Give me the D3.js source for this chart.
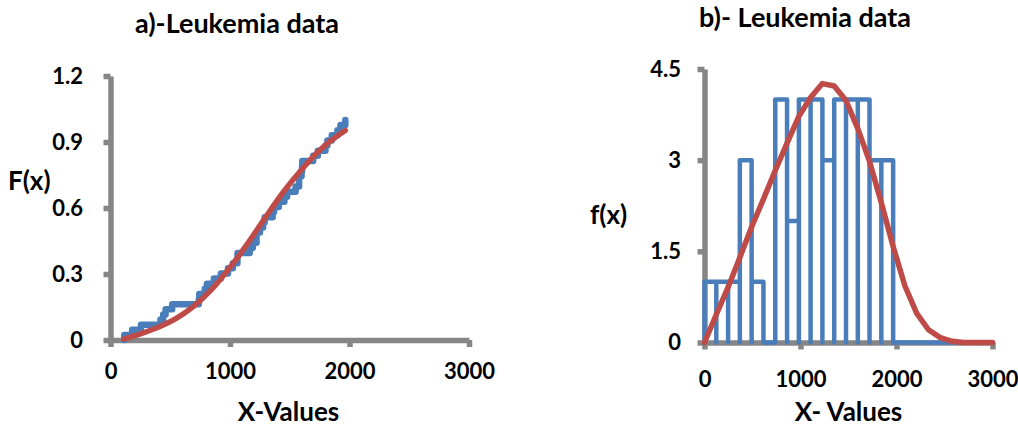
<!DOCTYPE html>
<html>
<head>
<meta charset="utf-8">
<script src="https://cdn.jsdelivr.net/npm/d3@7"></script>
<style>
  body { margin: 0; background: #fff; }
  text { font-family: Lato, "Open Sans", sans-serif; font-weight: bold; fill: #000; }
</style>
</head>
<body>
<div id="chart"></div>
<script>
/* Leukemia data: a) empirical vs fitted CDF, b) histogram vs fitted density */

const width = 1018, height = 426;

// survival times (days), sorted -> empirical CDF of panel a
const survival = [115, 181, 255, 418, 441, 461, 516, 739, 743, 789, 807, 865, 924, 983, 1024, 1062, 1063,
    1165, 1191, 1222, 1222, 1251, 1277, 1290, 1357, 1369, 1408, 1455, 1478, 1549, 1578, 1578, 1599, 1603,
    1605, 1696, 1735, 1799, 1815, 1852, 1899, 1925, 1965];

// fitted CDF (red line, panel a)
const cdfX = [115, 250, 400, 550, 700, 850, 1000, 1150, 1300, 1450, 1600, 1750, 1900, 1965];
const cdfF = [0.005, 0.028, 0.058, 0.098, 0.155, 0.232, 0.33, 0.44, 0.56, 0.675, 0.775, 0.862, 0.928, 0.952];

// histogram of panel b: bin edges and counts
const binEdges = [0, 123, 246, 368, 491, 614, 737, 860, 983, 1105, 1228, 1351, 1474, 1597, 1719, 1842, 1965];
const binCounts = [1, 1, 1, 3, 1, 0, 4, 2, 4, 4, 3, 4, 4, 4, 3, 3];

// fitted density (red line, panel b)
const pdfX = [0, 123, 246, 368, 491, 614, 737, 860, 983, 1105, 1228, 1351, 1474, 1597, 1719, 1842, 1965,
    2088, 2211, 2333, 2456, 2579, 2702, 2825, 3000];
const pdfY = [0, 0.46, 0.91, 1.4, 1.9, 2.36, 2.83, 3.28, 3.72, 4.03, 4.26, 4.22, 3.98, 3.52, 2.98, 2.3, 1.58,
    0.93, 0.48, 0.21, 0.08, 0.02, 0, 0, 0];

const xTicks = [0, 1000, 2000, 3000];
const yTicksA = [0, 0.3, 0.6, 0.9, 1.2];
const yTicksB = [0, 1.5, 3, 4.5];

const grey = "#868686", blue = "#4A7EBB", red = "#BE4B48";

const svg = d3.select("#chart")
    .append("svg")
    .attr("width", width)
    .attr("height", height)
    .attr("viewBox", [0, 0, width, height]);

// thick grey excel-like axes
function styleAxis(g) {
    g.select(".domain").attr("stroke", grey).attr("stroke-width", 5.5);
    g.selectAll(".tick line").attr("stroke", grey).attr("stroke-width", 5.5);
    g.selectAll(".tick text").style("font-size", "22px");
}

// ---------- panel a ----------
let xA = d3.scaleLinear().domain([0, 3000]).range([110.5, 469]);
let yA = d3.scaleLinear().domain([0, 1.2]).range([340, 76]);

svg.append("g")
    .attr("transform", `translate(0,${yA(0)})`)
    .call(d3.axisBottom(xA).tickValues(xTicks).tickFormat(String).tickSize(7).tickSizeOuter(0).tickPadding(16))
    .call(styleAxis);

svg.append("g")
    .attr("transform", `translate(${xA(0)},0)`)
    .call(d3.axisLeft(yA).tickValues(yTicksA).tickFormat(String).tickSize(7).tickSizeOuter(0).tickPadding(20.5))
    .call(styleAxis);

// empirical CDF as a staircase
let n = survival.length;
let ecdf = [];
survival.forEach((v, i) => { ecdf.push([v, i / n], [v, (i + 1) / n]); });

svg.append("path")
    .datum(ecdf)
    .attr("d", d3.line().x(d => xA(d[0])).y(d => yA(d[1])))
    .attr("fill", "none")
    .attr("stroke", blue)
    .attr("stroke-width", 6.5)
    .attr("stroke-linejoin", "round")
    .attr("stroke-linecap", "round");

svg.append("path")
    .datum(cdfX.map((v, i) => [v, cdfF[i]]))
    .attr("d", d3.line().x(d => xA(d[0])).y(d => yA(d[1])).curve(d3.curveMonotoneX))
    .attr("fill", "none")
    .attr("stroke", red)
    .attr("stroke-width", 5.5)
    .attr("stroke-linecap", "round");

svg.append("text")
    .attr("x", 237).attr("y", 33)
    .attr("text-anchor", "middle")
    .style("font-size", "27px")
    .text("a)-Leukemia data");

svg.append("text")
    .attr("x", 8).attr("y", 190)
    .style("font-size", "26px")
    .text("F(x)");

svg.append("text")
    .attr("x", 288.5).attr("y", 421)
    .attr("text-anchor", "middle")
    .style("font-size", "26px")
    .text("X-Values");

// ---------- panel b ----------
let xB = d3.scaleLinear().domain([0, 3000]).range([704.5, 992.5]);
let yB = d3.scaleLinear().domain([0, 4.5]).range([342.5, 69]);

svg.append("g")
    .attr("transform", `translate(0,${yB(0)})`)
    .call(d3.axisBottom(xB).tickValues(xTicks).tickFormat(String).tickSize(7).tickSizeOuter(0).tickPadding(21.5))
    .call(styleAxis);

svg.append("g")
    .attr("transform", `translate(${xB(0)},0)`)
    .call(d3.axisLeft(yB).tickValues(yTicksB).tickFormat(String).tickSize(7).tickSizeOuter(0).tickPadding(16.5))
    .call(styleAxis);

// histogram drawn as one open outline: up, across, down for every bin
let hist = [];
binCounts.forEach((c, i) => {
    hist.push([binEdges[i], 0], [binEdges[i], c], [binEdges[i + 1], c], [binEdges[i + 1], 0]);
});
hist.push([3000, 0]);

svg.append("path")
    .datum(hist)
    .attr("d", d3.line().x(d => xB(d[0])).y(d => yB(d[1])))
    .attr("fill", "none")
    .attr("stroke", blue)
    .attr("stroke-width", 4.5)
    .attr("stroke-linejoin", "round")
    .attr("stroke-linecap", "round");

svg.append("path")
    .datum(pdfX.map((v, i) => [v, pdfY[i]]))
    .attr("d", d3.line().x(d => xB(d[0])).y(d => yB(d[1])))
    .attr("fill", "none")
    .attr("stroke", red)
    .attr("stroke-width", 5.5)
    .attr("stroke-linejoin", "round")
    .attr("stroke-linecap", "round");

svg.append("text")
    .attr("x", 805).attr("y", 27)
    .attr("text-anchor", "middle")
    .style("font-size", "27px")
    .text("b)- Leukemia data");

svg.append("text")
    .attr("x", 590).attr("y", 224)
    .style("font-size", "26px")
    .text("f(x)");

svg.append("text")
    .attr("x", 848.5).attr("y", 421)
    .attr("text-anchor", "middle")
    .style("font-size", "26px")
    .text("X- Values");
</script>
</body>
</html>
